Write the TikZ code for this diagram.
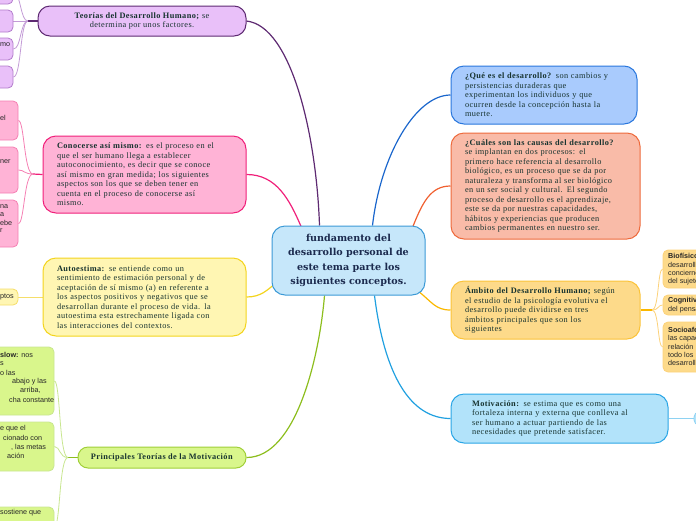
\documentclass[tikz,border=0pt]{standalone}
\usepackage{fontspec}
\setmainfont{Liberation Serif}[LetterSpace=5]
\newfontfamily\sansf{Liberation Sans}
\newfontfamily\ctrf{DejaVu Serif}
\usetikzlibrary{calc}
\pgfdeclarelayer{bg}
\pgfsetlayers{bg,main}
\definecolor{txt}{HTML}{17332F}
\definecolor{navy}{HTML}{1B2A4E}
\definecolor{cenF}{HTML}{C6E7FA}\definecolor{cenB}{HTML}{3C9AD6}
\definecolor{puF}{HTML}{E9C0F9}\definecolor{puB}{HTML}{5E2A72}\definecolor{puL}{HTML}{C39BD6}\definecolor{puS}{HTML}{B27CCB}
\definecolor{pkF}{HTML}{FFB3D6}\definecolor{pkB}{HTML}{F0207A}\definecolor{pkL}{HTML}{F57FB3}
\definecolor{yeF}{HTML}{FFF6B3}\definecolor{yeB}{HTML}{F3D41E}\definecolor{yeL}{HTML}{F5DE6A}
\definecolor{grF}{HTML}{D9F68C}\definecolor{grB}{HTML}{A0CF38}\definecolor{grM}{HTML}{8DBE1E}\definecolor{grL}{HTML}{C8E690}
\definecolor{blF}{HTML}{A9CBFD}\definecolor{blB}{HTML}{2A77DD}\definecolor{blM}{HTML}{1A66CC}
\definecolor{saF}{HTML}{F9BBA8}\definecolor{saB}{HTML}{EE6A3C}\definecolor{saM}{HTML}{F06030}
\definecolor{orF}{HTML}{FDDA8A}\definecolor{orB}{HTML}{FBC33A}\definecolor{orM}{HTML}{FBB800}\definecolor{orL}{HTML}{FCD27A}
\definecolor{cyF}{HTML}{B2E3FA}\definecolor{cyB}{HTML}{2AA6E6}\definecolor{cyM}{HTML}{20A0E0}\definecolor{cyL}{HTML}{8ED2F2}
\newcommand\bodyf{\fontsize{8.3}{9.5}\selectfont}
\newcommand\smf{\sansf\fontsize{7.2}{8.4}\selectfont}
\newcommand\tl[1]{\mbox{#1}\\}
\tikzset{
  mmbox/.style={draw, line width=1pt, rounded corners=13pt, inner sep=0pt, text=txt, font=\bodyf},
  pbox/.style={draw, line width=0.8pt, rounded corners=5pt, inner sep=0pt},
  frag/.style={anchor=west, inner sep=0pt, font=\smf, text=black!85},
  conn/.style={line width=1.2pt},
  subc/.style={line width=0.8pt}
}
\begin{document}
\begin{tikzpicture}[x=1pt,y=-1pt]
\useasboundingbox (0,0) rectangle (696,520);
% central node
\node[mmbox, fill=cenF, draw=cenB, minimum width=153pt, minimum height=69pt, align=center,
      font=\ctrf\bfseries\fontsize{9.6}{14.5}\selectfont, text=navy] (cen) at (348.5,260.5)
  {fundamento del\\desarrollo personal de\\este tema parte los\\siguientes conceptos.};
% left main nodes
\node[mmbox, fill=puF, draw=puB, minimum width=208pt, minimum height=30pt, align=center, rounded corners=12pt] (teo) at (142,21)
  {\textbf{Teorías del Desarrollo Humano;} se\\determina por unos factores.};
\node[mmbox, fill=pkF, draw=pkB, minimum width=203pt, minimum height=77pt, text width=175pt, align=left] (cono) at (144.5,174.5)
  {\tl{\textbf{Conocerse así mismo:} es el proceso en el}\tl{que el ser humano llega a establecer}\tl{autoconocimiento, es decir que se conoce}\tl{así mismo en gran medida; los siguientes}\tl{aspectos son los que se deben tener en}\tl{cuenta en el proceso de conocerse así}\mbox{mismo.}};
\node[mmbox, fill=yeF, draw=yeB, minimum width=203pt, minimum height=78pt, text width=175pt, align=left] (auto) at (144.5,297)
  {\tl{\textbf{Autoestima:} se entiende como un}\tl{sentimiento de estimación personal y de}\tl{aceptación de sí mismo (a) en referente a}\tl{los aspectos positivos y negativos que se}\tl{desarrollan durante el proceso de vida. la}\tl{autoestima esta estrechamente ligada con}\mbox{las interacciones del contextos.}};
\node[mmbox, fill=grF, draw=grB, minimum width=168pt, minimum height=21pt, align=center, rounded corners=10pt] (prin) at (162,457.5)
  {\textbf{Principales Teorías de la Motivación}};
% right main nodes
\node[mmbox, fill=blF, draw=blB, minimum width=186pt, minimum height=58pt, text width=158pt, align=left] (que) at (544,95)
  {\tl{\textbf{¿Qué es el desarrollo?} son cambios y}\tl{persistencias duraderas que}\tl{experimentan los individuos y que}\tl{ocurren desde la concepción hasta la}\mbox{muerte.}};
\node[mmbox, fill=saF, draw=saB, minimum width=189pt, minimum height=106pt, text width=161pt, align=left] (cua) at (545.5,186)
  {\tl{\textbf{¿Cuáles son las causas del desarrollo?}}\tl{se implantan en dos procesos: el}\tl{primero hace referencia al desarrollo}\tl{biológico, es un proceso que se da por}\tl{naturaleza y transforma al ser biológico}\tl{en un ser social y cultural. El segundo}\tl{proceso de desarrollo es el aprendizaje,}\tl{este se da por nuestras capacidades,}\tl{hábitos y experiencias que producen}\mbox{cambios permanentes en nuestro ser.}};
\node[mmbox, fill=orF, draw=orB, minimum width=189pt, minimum height=58pt, text width=161pt, align=left] (amb) at (545.5,310)
  {\tl{\textbf{Ámbito del Desarrollo Humano;} según}\tl{el estudio de la psicología evolutiva el}\tl{desarrollo puede dividirse en tres}\tl{ámbitos principales que son los}\mbox{siguientes}};
\node[mmbox, fill=cyF, draw=cyB, minimum width=217pt, minimum height=49pt, text width=175pt, align=left] (mot) at (559.5,418.5)
  {\tl{\textbf{Motivación:} se estima que es como una}\tl{fortaleza interna y externa que conlleva al}\tl{ser humano a actuar partiendo de las}\mbox{necesidades que pretende satisfacer.}};
% partial boxes: purple
\node[pbox, fill=puF, draw=puS, minimum width=43pt, minimum height=22pt] (pu1) at (-8.5,-7) {};
\node[pbox, fill=puF, draw=puS, minimum width=43pt, minimum height=22pt] (pu2) at (-8.5,21) {};
\node[pbox, fill=puF, draw=puS, minimum width=43pt, minimum height=22pt] (pu3) at (-8.5,49) {};
\node[pbox, fill=puF, draw=puS, minimum width=43pt, minimum height=22pt] (pu4) at (-8.5,77) {};
\node[frag] (pu3t) at (0,45) {mo};
% pink
\node[pbox, fill=pkF, draw=pkL, minimum width=48pt, minimum height=39pt] (pk1) at (-6,120.5) {};
\node[pbox, fill=pkF, draw=pkL, minimum width=48pt, minimum height=46pt] (pk2) at (-6,170) {};
\node[pbox, fill=pkF, draw=pkL, minimum width=48pt, minimum height=47pt] (pk3) at (-6,223.5) {};
\node[frag] (pk1t) at (0,118) {el};
\node[frag] (pk2t) at (0,162) {ner};
\node[frag] (pk3a) at (0,207) {na};
\node[frag] (pk3b) at (0,215) {a};
\node[frag] (pk3c) at (0,223) {ebe};
\node[frag] (pk3d) at (0,231) {r};
% yellow
\node[pbox, fill=yeF, draw=yeL, minimum width=48pt, minimum height=16pt] (ye1) at (-6,297) {};
\node[frag] (ye1t) at (0,297) {ptos};
% green
\node[pbox, fill=grF, draw=grL, minimum width=84pt, minimum height=68pt] (gr1) at (12,381) {};
\node[pbox, fill=grF, draw=grL, minimum width=84pt, minimum height=49pt] (gr2) at (12,446.5) {};
\node[pbox, fill=grF, draw=grL, minimum width=84pt, minimum height=40pt] (gr3) at (12,527) {};
\node[frag] (g1a) at (0,355) {\textbf{slow:} nos};
\node[frag] (g1b) at (0,363.5) {s};
\node[frag] (g1c) at (0,372.5) {o las};
\node[frag] (g1d) at (12,381.5) {abajo y las};
\node[frag] (g1e) at (20,390.5) {arriba,};
\node[frag] (g1f) at (9,399.5) {cha constante};
\node[frag] (g2a) at (0,429) {e que el};
\node[frag] (g2b) at (3,438) {cionado con};
\node[frag] (g2c) at (11,447) {, las metas};
\node[frag] (g2d) at (7,456) {ación};
\node[frag] (g3a) at (0,513) {sostiene que};
% right orange
\node[pbox, fill=orF, draw=orL, minimum width=60pt, minimum height=38pt] (or1) at (693,269) {};
\node[pbox, fill=orF, draw=orL, minimum width=60pt, minimum height=20pt] (or2) at (693,305) {};
\node[pbox, fill=orF, draw=orL, minimum width=60pt, minimum height=50pt] (or3) at (693,347) {};
\node[frag, align=left, font=\sansf\fontsize{7.2}{8.3}\selectfont] (or1t) at (668,269.5)
  {\textbf{Biofísico}\\desarrollo\\concierne\\del sujeto};
\node[frag, align=left, font=\sansf\fontsize{7.2}{8.8}\selectfont] (or2t) at (668,305.5)
  {\textbf{Cognitivo}\\del pensamiento};
\node[frag, align=left, font=\sansf\fontsize{7.2}{8.3}\selectfont] (or3t) at (668,346.5)
  {\textbf{Socioafectivo}\\las capacidades\\relación\\todo los\\desarrollo};
% right cyan
\node[pbox, fill=cyF, draw=cyL, minimum width=40pt, minimum height=13pt] (cy1) at (714,418.5) {};
% junction coordinates
\coordinate (tj) at (28,21);
\coordinate (kj) at (33,174);
\coordinate (gj) at (68,457.5);
\coordinate (aj) at (652,310);
\begin{pgfonlayer}{bg}
% main connectors
\draw[conn, puB] (teo.east) .. controls +(45,5) and +(-3,-90) .. ($(cen.north west)+(48,0)$);
\draw[conn, pkB] (cono.east) .. controls +(30,0) and +(-12,-28) .. ($(cen.north west)+(30,2)$);
\draw[conn, yeB] (auto.east) .. controls +(15,0) and +(-8,6) .. ($(cen.south west)+(4,-12)$);
\draw[conn, grM] (prin.east) .. controls +(50,0) and +(-5,60) .. ($(cen.south west)+(53,0)$);
\draw[conn, blM] ($(cen.north west)+(101,0)$) .. controls +(8,-70) and +(-35,0) .. (que.west);
\draw[conn, saM] ($(cen.north east)+(-13,2)$) .. controls +(10,-25) and +(-20,0) .. (cua.west);
\draw[conn, orM] ($(cen.south east)+(-8,-5)$) .. controls +(15,12) and +(-15,0) .. (amb.west);
\draw[conn, cyM] ($(cen.south west)+(103,0)$) .. controls +(10,80) and +(-40,0) .. (mot.west);
% sub connectors
\draw[conn, puB] (teo.west) -- (tj);
\foreach \n in {pu1,pu2,pu3,pu4} \draw[subc, puL] (tj) .. controls +(-8,0) and +(8,0) .. (\n.east);
\draw[conn, pkB] (cono.west) -- (kj);
\foreach \n in {pk1,pk2,pk3} \draw[subc, pkL] (kj) .. controls +(-9,0) and +(6,0) .. (\n.east);
\draw[subc, yeL] (auto.west) -- (ye1.east);
\draw[conn, grM] (prin.west) -- (gj);
\foreach \n in {gr1,gr2,gr3} \draw[subc, grL] (gj) .. controls +(-9,0) and +(6,0) .. (\n.east);
\draw[conn, orM] (amb.east) -- (aj);
\foreach \n in {or1,or2,or3} \draw[subc, orL] (aj) .. controls +(7,0) and +(-5,0) .. (\n.west);
\draw[subc, cyL] (mot.east) -- (cy1.west);
\end{pgfonlayer}
\end{tikzpicture}
\end{document}
